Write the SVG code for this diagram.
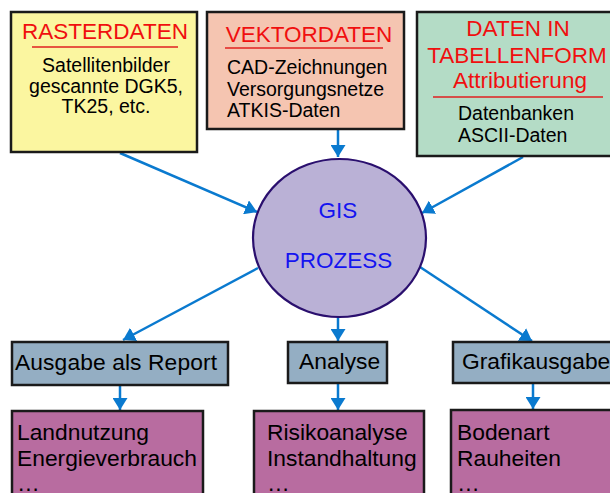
<svg xmlns="http://www.w3.org/2000/svg" width="610" height="493" viewBox="0 0 610 493">
<style>
.box{stroke:#1a1a1a;stroke-width:2.5}
.t{font-family:"Liberation Sans",Arial,sans-serif;fill:#000}
.title{font-family:"Liberation Sans",Arial,sans-serif;fill:#f00f0f;font-size:22.5px;text-anchor:middle}
.body{font-size:19.5px}
.low{font-size:22.8px}
.ul{stroke:#e02020;stroke-width:1.6}
.conn{stroke:#0a7acf;stroke-width:2.5;fill:none;marker-end:url(#ah)}
.gis{font-family:"Liberation Sans",Arial,sans-serif;fill:#1414f0;font-size:22.5px;text-anchor:middle}
</style>
<defs>
<marker id="ah" markerUnits="userSpaceOnUse" markerWidth="13" markerHeight="15" refX="12" refY="7.5" orient="auto">
<path d="M0,0 L12,7.5 L0,15 z" fill="#0a7acf"/>
</marker>
</defs>
<rect width="610" height="493" fill="#fff"/>
<g id="connectors">
<line class="conn" x1="120" y1="153" x2="257" y2="212"/>
<line class="conn" x1="338" y1="130" x2="338" y2="157"/>
<line class="conn" x1="523" y1="157" x2="422" y2="213"/>
<line class="conn" x1="258" y1="268" x2="123" y2="340"/>
<line class="conn" x1="338" y1="317" x2="338" y2="341"/>
<line class="conn" x1="420" y1="267" x2="532" y2="341"/>
<line class="conn" x1="120" y1="386" x2="120" y2="410"/>
<line class="conn" x1="338" y1="384" x2="338" y2="410"/>
<line class="conn" x1="533" y1="384" x2="533" y2="409"/>
</g>
<g id="raster">
<rect class="box" x="11" y="12" width="186" height="140" fill="#fbf6a0"/>
<text class="title" x="105" y="39">RASTERDATEN</text>
<line class="ul" x1="32" y1="47" x2="178" y2="47"/>
<text class="t body" text-anchor="middle"><tspan x="106" y="72">Satellitenbilder</tspan><tspan x="106" y="93">gescannte DGK5,</tspan><tspan x="106" y="113">TK25, etc.</tspan></text>
</g>
<g id="vektor">
<rect class="box" x="207" y="12" width="197" height="117" fill="#f5c5b1"/>
<text class="title" x="309" y="42">VEKTORDATEN</text>
<line class="ul" x1="225" y1="48" x2="383" y2="48"/>
<text class="t body"><tspan x="227" y="74">CAD-Zeichnungen</tspan><tspan x="227" y="96">Versorgungsnetze</tspan><tspan x="227" y="117">ATKIS-Daten</tspan></text>
</g>
<g id="tabellen">
<rect class="box" x="417" y="12" width="210" height="144" fill="#b4dcc6"/>
<text class="title"><tspan x="518" y="36">DATEN IN</tspan><tspan x="517" y="63">TABELLENFORM</tspan><tspan x="520" y="88">Attributierung</tspan></text>
<line class="ul" x1="433" y1="97" x2="603" y2="97"/>
<text class="t body"><tspan x="458" y="120">Datenbanken</tspan><tspan x="458" y="142">ASCII-Daten</tspan></text>
</g>
<g id="gis">
<ellipse cx="339.5" cy="238" rx="86.5" ry="79" fill="#bab1d6" stroke="#2a0f6e" stroke-width="2.2"/>
<text class="gis" x="338" y="218">GIS</text>
<text class="gis" x="338.5" y="268">PROZESS</text>
</g>
<g id="report">
<rect class="box" x="12" y="342" width="216" height="43" fill="#94aec3"/>
<text class="t low" x="15" y="370" textLength="202">Ausgabe als Report</text>
</g>
<g id="analyse">
<rect class="box" x="288" y="342" width="99" height="41" fill="#94aec3"/>
<text class="t low" x="299" y="369">Analyse</text>
</g>
<g id="grafik">
<rect class="box" x="453" y="342" width="170" height="41" fill="#94aec3"/>
<text class="t low" x="462" y="369">Grafikausgabe</text>
</g>
<g id="report-items">
<rect class="box" x="12" y="411" width="191" height="100" fill="#b86ca0"/>
<text class="t low"><tspan x="17" y="440">Landnutzung</tspan><tspan x="17" y="466">Energieverbrauch</tspan><tspan x="17" y="491">…</tspan></text>
</g>
<g id="analyse-items">
<rect class="box" x="254" y="411" width="170" height="100" fill="#b86ca0"/>
<text class="t low"><tspan x="267" y="440">Risikoanalyse</tspan><tspan x="267" y="466">Instandhaltung</tspan><tspan x="267" y="491">…</tspan></text>
</g>
<g id="grafik-items">
<rect class="box" x="451" y="410" width="170" height="100" fill="#b86ca0"/>
<text class="t low"><tspan x="457" y="440">Bodenart</tspan><tspan x="457" y="466">Rauheiten</tspan><tspan x="457" y="491">…</tspan></text>
</g>
</svg>
